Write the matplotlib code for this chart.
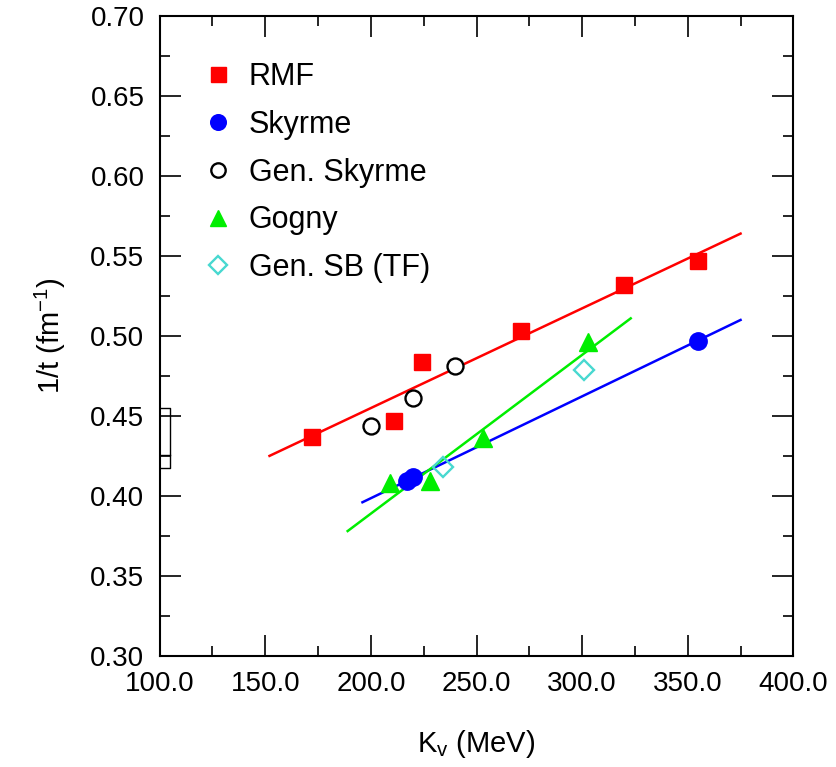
import matplotlib
matplotlib.use("Agg")
import matplotlib.pyplot as plt
from matplotlib.ticker import MultipleLocator, FormatStrFormatter

plt.rcParams["font.family"] = ["Liberation Sans", "DejaVu Sans"]

# =========================
# data
# =========================
rmf_k = [172, 211, 224, 271, 320, 355]
rmf_t = [0.437, 0.447, 0.484, 0.503, 0.532, 0.547]

sky_k = [217, 220, 355]
sky_t = [0.409, 0.412, 0.497]

gsky_k = [200, 220, 240]
gsky_t = [0.444, 0.461, 0.481]

gog_k = [209, 228, 253, 303]
gog_t = [0.408, 0.409, 0.436, 0.496]

gsb_k = [234, 301]
gsb_t = [0.418, 0.479]

# fitted lines (end points)
rmf_fit_k = [152, 375]
rmf_fit_t = [0.425, 0.564]
sky_fit_k = [196, 375]
sky_fit_t = [0.396, 0.510]
gog_fit_k = [189, 323]
gog_fit_t = [0.378, 0.511]

# =========================
# figure
# =========================
fig = plt.figure(figsize=(8.36, 7.67), dpi=100)
ax = fig.add_axes([0.191, 0.145, 0.758, 0.834])

ax.plot(rmf_fit_k, rmf_fit_t, color="#ff0000", lw=1.8)
ax.plot(sky_fit_k, sky_fit_t, color="#0000ff", lw=1.8)
ax.plot(gog_fit_k, gog_fit_t, color="#00ee00", lw=1.8)

ax.plot(rmf_k, rmf_t, "s", color="#ff0000", ms=12, ls="none", label="RMF")
ax.plot(sky_k, sky_t, "o", color="#0000ff", ms=12.5, ls="none", label="Skyrme")
ax.plot(gsky_k, gsky_t, "o", mfc="white", mec="black", mew=1.7, ms=11.5,
        ls="none", label="Gen. Skyrme")
ax.plot(gog_k, gog_t, "^", color="#00ee00", ms=12.5, ls="none", label="Gogny")
ax.plot(gsb_k, gsb_t, "D", mfc="none", mec="#48d8d0", mew=1.7, ms=10.5,
        ls="none", label="Gen. SB (TF)")

ax.set_xlim(100, 400)
ax.set_ylim(0.30, 0.70)
ax.xaxis.set_major_locator(MultipleLocator(50))
ax.xaxis.set_minor_locator(MultipleLocator(25))
ax.yaxis.set_major_locator(MultipleLocator(0.05))
ax.yaxis.set_minor_locator(MultipleLocator(0.025))
ax.xaxis.set_major_formatter(FormatStrFormatter("%.1f"))
ax.yaxis.set_major_formatter(FormatStrFormatter("%.2f"))

ax.tick_params(which="both", direction="in", top=True, right=True,
               labelsize=20, width=1.2)
ax.tick_params(which="major", length=15, pad=11)
ax.tick_params(which="minor", length=7.5)
for s in ax.spines.values():
    s.set_linewidth(1.5)

ax.set_xlabel("K$_\\mathregular{v}$ (MeV)", fontsize=21, labelpad=22)
ax.set_ylabel("1/t (fm$^\\mathregular{-1}$)", fontsize=21, labelpad=16)

# little box stuck on the left axis
ax.plot([0, 0.016, 0.016, 0], [0.294, 0.294, 0.3875, 0.3875],
        color="black", lw=1, transform=ax.transAxes, clip_on=False)
ax.plot([0, 0.016], [0.314, 0.314], color="black", lw=1,
        transform=ax.transAxes, clip_on=False)

ax.legend(loc="upper left", bbox_to_anchor=(0.068, 0.928), frameon=False,
          fontsize=22, handlelength=1.0, handletextpad=0.5,
          labelspacing=0.58, borderpad=0, borderaxespad=0, markerscale=0.9)

fig.savefig("out.png", dpi=100)
